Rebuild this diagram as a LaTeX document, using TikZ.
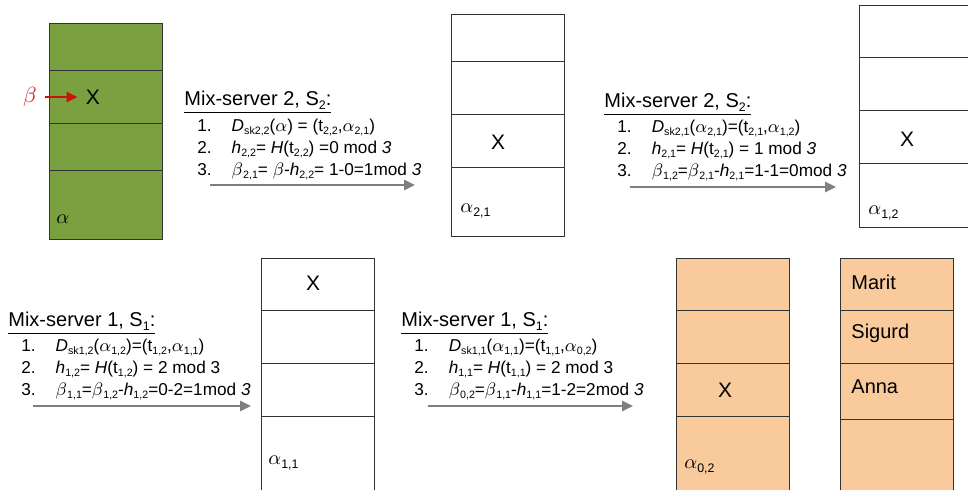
\documentclass[tikz,border=0pt]{standalone}
\usepackage{amsmath}
\usepackage{fontspec}
\setmainfont{Liberation Sans}
\usepackage{tikz}
\usetikzlibrary{arrows.meta, positioning}
\usepackage[usenames,dvipsnames]{xcolor}
\definecolor{mixgreen}{HTML}{7AA03F}
\definecolor{mixorange}{HTML}{F9CB9C}
\definecolor{betared}{HTML}{CC1111}
\definecolor{flowgray}{HTML}{7F7F7F}
\newcommand{\idx}[1]{\raisebox{-0.3ex}{\scalebox{0.62}{#1}}}
\newcommand{\stepsof}[3]{\begin{tabular}[t]{@{}l@{\hspace{10pt}}l@{}}1. & #1\\ 2. & #2\\ 3. & #3\end{tabular}}

\begin{document}
\begin{tikzpicture}[x=0.5pt, y=-0.5pt,
		cell/.style={draw=black!80, line width=0.5pt},
		header/.style={font=\fontsize{10}{12}\selectfont, anchor=base west, inner sep=0pt},
		stepitems/.style={font=\fontsize{8.6}{11}\selectfont, anchor=base west, inner sep=0pt},
		xmark/.style={font=\fontsize{10.5}{12}\selectfont, inner sep=0pt},
		voter/.style={font=\fontsize{10}{12}\selectfont, anchor=west, inner sep=0pt},
		cipher/.style={font=\fontsize{10}{12}\selectfont, anchor=west, inner sep=0pt},
		flow/.style={flowgray, line width=1.3pt, -{Triangle[length=5.5pt, width=5pt]}}]
	\useasboundingbox (0,0) rectangle (968,490);
	\clip (0,0) rectangle (968,490);

	% the four lists
	\filldraw[cell, fill=mixgreen] (49,24) rectangle (162,240);
	\draw[cell] (49,71) -- (162,71) (49,124) -- (162,124) (49,171) -- (162,171);
	\draw[cell] (451,15) rectangle (564,237);
	\draw[cell] (451,62) -- (564,62) (451,115) -- (564,115) (451,168) -- (564,168);
	\draw[cell] (859,6) rectangle (990,228);
	\draw[cell] (859,58) -- (990,58) (859,111) -- (990,111) (859,164) -- (990,164);
	\draw[cell] (261,259) rectangle (374,500);
	\draw[cell] (261,311) -- (374,311) (261,364) -- (374,364) (261,417) -- (374,417);
	\filldraw[cell, fill=mixorange] (676,259) rectangle (789,500);
	\draw[cell] (676,311) -- (789,311) (676,364) -- (789,364) (676,417) -- (789,417);
	\filldraw[cell, fill=mixorange] (840,259) rectangle (953,500);
	\draw[cell] (840,311) -- (953,311) (840,364) -- (953,364) (840,420) -- (953,420);

	\node[xmark] (x0) at (93,97) {X};
	\node[xmark] (x1) at (498,142) {X};
	\node[xmark] (x2) at (907,139) {X};
	\node[xmark] (x3) at (313,283) {X};
	\node[xmark] (x4) at (725,390) {X};

	\node[cipher] (a0) at (56,219) {$\alpha$};
	\node[cipher] (a1) at (460,211) {$\alpha$\idx{2,1}};
	\node[cipher] (a2) at (868,213) {$\alpha$\idx{1,2}};
	\node[cipher] (a3) at (268,463) {$\alpha$\idx{1,1}};
	\node[cipher] (a4) at (684,467) {$\alpha$\idx{0,2}};

	\node[voter] (n1) at (851,282) {Marit};
	\node[voter] (n2) at (851,333) {Sigurd};
	\node[voter] (n3) at (851,387) {Anna};

	\node[font=\fontsize{10.5}{12}\selectfont, text=betared, inner sep=0pt] (beta) at (30,97) {$\beta$};
	\draw[betared, line width=1.2pt, -{Triangle[length=5.5pt, width=5pt]}] ([xshift=4]beta.east) -- ([xshift=-4]x0.west);

	% decryption steps
	\node[header] (h1) at (184,106) {\underline{Mix-server 2, S\idx{2}:}};
	\node[stepitems] (s1) at (197,132) {\stepsof
		{\textit{D}\idx{sk2,2}($\alpha$) = (t\idx{2,2},$\alpha$\idx{2,1})}
		{\textit{h}\idx{2,2}= \textit{H}(t\idx{2,2}) =0 mod \textit{3}}
		{$\beta$\idx{2,1}= $\beta$-\textit{h}\idx{2,2}= 1-0=1mod \textit{3}}};
	\coordinate (f1a) at (210,185);
	\coordinate (f1b) at (415,185);
	\draw[flow] (f1a) -- (f1b);

	\node[header] (h2) at (604,108) {\underline{Mix-server 2, S\idx{2}:}};
	\node[stepitems] (s2) at (617,133) {\stepsof
		{\textit{D}\idx{sk2,1}($\alpha$\idx{2,1})=(t\idx{2,1},$\alpha$\idx{1,2})}
		{\textit{h}\idx{2,1}= \textit{H}(t\idx{2,1}) = 1 mod \textit{3}}
		{$\beta$\idx{1,2}=$\beta$\idx{2,1}-\textit{h}\idx{2,1}=1-1=0mod \textit{3}}};
	\coordinate (f2a) at (630,187);
	\coordinate (f2b) at (836,187);
	\draw[flow] (f2a) -- (f2b);

	\node[header] (h3) at (8,327) {\underline{Mix-server 1, S\idx{1}:}};
	\node[stepitems] (s3) at (21,352) {\stepsof
		{\textit{D}\idx{sk1,2}($\alpha$\idx{1,2})=(t\idx{1,2},$\alpha$\idx{1,1})}
		{\textit{h}\idx{1,2}= \textit{H}(t\idx{1,2}) = 2 mod 3}
		{$\beta$\idx{1,1}=$\beta$\idx{1,2}-\textit{h}\idx{1,2}=0-2=1mod \textit{3}}};
	\coordinate (f3a) at (33,406);
	\coordinate (f3b) at (251,406);
	\draw[flow] (f3a) -- (f3b);

	\node[header] (h4) at (401,327) {\underline{Mix-server 1, S\idx{1}:}};
	\node[stepitems] (s4) at (414,352) {\stepsof
		{\textit{D}\idx{sk1,1}($\alpha$\idx{1,1})=(t\idx{1,1},$\alpha$\idx{0,2})}
		{\textit{h}\idx{1,1}= \textit{H}(t\idx{1,1}) = 2 mod 3}
		{$\beta$\idx{0,2}=$\beta$\idx{1,1}-\textit{h}\idx{1,1}=1-2=2mod \textit{3}}};
	\coordinate (f4a) at (428,406);
	\coordinate (f4b) at (633,406);
	\draw[flow] (f4a) -- (f4b);
\end{tikzpicture}
\end{document}
